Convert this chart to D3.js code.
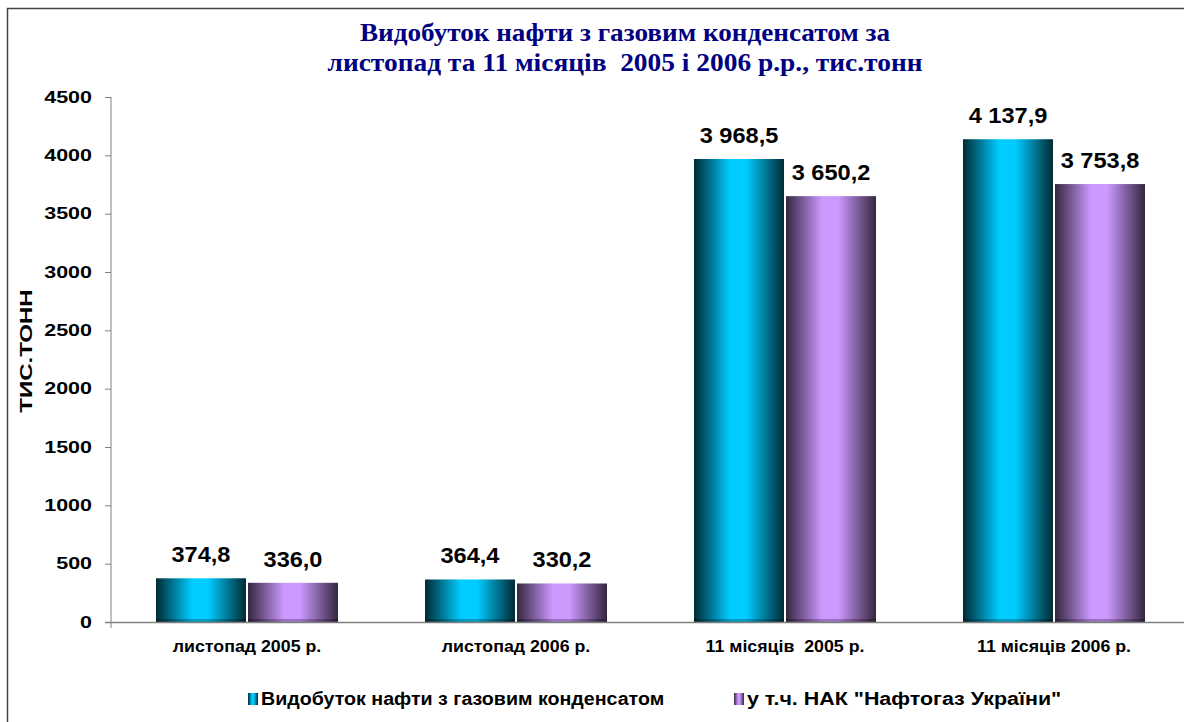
<!DOCTYPE html>
<html>
<head>
  <meta charset="utf-8">
  <title>Видобуток нафти</title>
  <script src="https://d3js.org/d3.v7.min.js"></script>
  <style>
    body { margin: 0; background: #fff; }
  </style>
</head>
<body>
<div id="chart"></div>
<script type="text/javascript">
  // дані з графіка
  const categories = ['листопад 2005 р.', 'листопад 2006 р.', '11 місяців  2005 р.', '11 місяців 2006 р.'];
  const seriesNames = ['Видобуток нафти з газовим конденсатом', 'у т.ч. НАК "Нафтогаз України"'];
  const totalValues = [374.8, 364.4, 3968.5, 4137.9];
  const nakValues = [336.0, 330.2, 3650.2, 3753.8];
  const yTicks = [0, 500, 1000, 1500, 2000, 2500, 3000, 3500, 4000, 4500];
  const titleLines = ['Видобуток нафти з газовим конденсатом за', 'листопад та 11 місяців  2005 і 2006 р.р., тис.тонн'];
  const yTitle = 'ТИС.ТОНН';

  const W = 1184, H = 722;
  const font = 'Arial, "Liberation Sans", sans-serif';

  const svg = d3.select('#chart').append('svg')
      .attr('width', W).attr('height', H);

  // розтягнути текст по горизонталі (оригінал трохи ширший)
  function stretch(sel, k) {
    sel.each(function(d, i) {
      const kk = Array.isArray(k) ? k[i] : k;
      const len = this.getComputedTextLength();
      d3.select(this).attr('textLength', len * kk).attr('lengthAdjust', 'spacingAndGlyphs');
    });
  }

  // градієнти для стовпців
  const defs = svg.append('defs');
  function grad(id, edge, mid) {
    const g = defs.append('linearGradient').attr('id', id)
        .attr('x1', 0).attr('x2', 1).attr('y1', 0).attr('y2', 0);
    g.append('stop').attr('offset', '0%').attr('stop-color', edge);
    g.append('stop').attr('offset', '40%').attr('stop-color', mid);
    g.append('stop').attr('offset', '58%').attr('stop-color', mid);
    g.append('stop').attr('offset', '100%').attr('stop-color', edge);
  }
  grad('gCyan', '#002a35', '#00ccff');
  grad('gPurple', '#34263f', '#cc99ff');
  const fills = ['url(#gCyan)', 'url(#gPurple)'];

  // рамка
  svg.append('rect')
     .attr('x', 7.5).attr('y', 8.5).attr('width', W + 20).attr('height', H + 20)
     .attr('fill', 'none').attr('stroke', '#444').attr('stroke-width', 1.5);

  // заголовок
  svg.selectAll('text.title')
     .data(titleLines)
     .enter().append('text')
     .attr('class', 'title')
     .attr('x', 625)
     .attr('y', (d, i) => 41 + i * 30)
     .attr('text-anchor', 'middle')
     .attr('font-family', '"Liberation Serif", "Times New Roman", serif')
     .attr('font-weight', 'bold')
     .attr('font-size', '25px')
     .attr('fill', '#000080')
     .style('white-space', 'pre')
     .attr('textLength', (d, i) => i === 0 ? 530 : 595)
     .attr('lengthAdjust', 'spacingAndGlyphs')
     .text(d => d);

  const x0 = d3.scaleBand().domain(categories).range([112, 1188]);
  const x1 = d3.scaleBand().domain([0, 1]).range([44, 226]).paddingInner(0.022);
  const y = d3.scaleLinear().domain([0, 4500]).range([622, 97]);

  const fmt = d3.formatLocale({decimal: ',', thousands: '\u00a0', grouping: [3], currency: ['', '']}).format(',.1f');

  // вісь Y
  const yAxis = d3.axisLeft(y).tickValues(yTicks).tickSize(6).tickPadding(13).tickFormat(d3.format('d'));
  const gy = svg.append('g').attr('transform', 'translate(111,0)').call(yAxis);
  gy.select('.domain').attr('stroke', '#808080').attr('d', 'M0,97V628');
  gy.selectAll('.tick line').attr('stroke', '#808080');
  gy.selectAll('.tick text')
    .attr('font-family', font).attr('font-weight', 'bold').attr('font-size', '16.5px').attr('fill', '#000')
    .call(stretch, 1.3);

  svg.append('text')
     .attr('transform', 'translate(32,351) rotate(-90)')
     .attr('text-anchor', 'middle')
     .attr('font-family', font).attr('font-weight', 'bold').attr('font-size', '16px')
     .text(yTitle)
     .call(stretch, 1.5);

  // стовпці
  const groups = svg.selectAll('g.cat')
     .data(categories)
     .enter().append('g')
     .attr('class', 'cat')
     .attr('transform', d => `translate(${x0(d)},0)`);

  const rows = categories.map((c, i) => [totalValues[i], nakValues[i]]);

  groups.selectAll('rect.bar')
     .data((d, i) => rows[i])
     .enter().append('rect')
     .attr('class', 'bar')
     .attr('x', (d, j) => x1(j))
     .attr('y', d => y(d))
     .attr('width', x1.bandwidth())
     .attr('height', d => y(0) - y(d))
     .attr('fill', (d, j) => fills[j]);

  // темна смужка внизу стовпця
  groups.selectAll('rect.base')
     .data((d, i) => rows[i])
     .enter().append('rect')
     .attr('class', 'base')
     .attr('x', (d, j) => x1(j))
     .attr('y', y(0) - 3)
     .attr('width', x1.bandwidth())
     .attr('height', 3)
     .attr('fill', '#000').attr('opacity', 0.25);

  groups.selectAll('text.val')
     .data((d, i) => rows[i])
     .enter().append('text')
     .attr('class', 'val')
     .attr('x', (d, j) => x1(j) + x1.bandwidth() / 2)
     .attr('y', d => y(d) - 16)
     .attr('text-anchor', 'middle')
     .attr('font-family', font).attr('font-weight', 'bold').attr('font-size', '22px')
     .text(d => fmt(d))
     .call(stretch, 1.07);

  // вісь X
  svg.append('line')
     .attr('x1', 105).attr('x2', W).attr('y1', 622.5).attr('y2', 622.5)
     .attr('stroke', '#808080').attr('stroke-width', 1.5);

  svg.selectAll('text.cat')
     .data(categories)
     .enter().append('text')
     .attr('class', 'cat')
     .attr('x', d => x0(d) + x1(1) - 1)
     .attr('y', 652)
     .attr('text-anchor', 'middle')
     .attr('font-family', font).attr('font-weight', 'bold').attr('font-size', '17px')
     .style('white-space', 'pre')
     .text(d => d)
     .call(stretch, 1.045);

  // легенда
  const legendX = [248, 734];
  const leg = svg.selectAll('g.leg')
     .data(seriesNames)
     .enter().append('g')
     .attr('class', 'leg')
     .attr('transform', (d, i) => `translate(${legendX[i]},693)`);
  leg.append('rect')
     .attr('width', 10).attr('height', 12)
     .attr('fill', (d, i) => fills[i]);
  leg.append('text')
     .attr('x', 13).attr('y', 12)
     .attr('font-family', font).attr('font-weight', 'bold').attr('font-size', '18px')
     .text(d => d)
     .call(stretch, [1.09, 1.19]);
</script>
</body>
</html>
